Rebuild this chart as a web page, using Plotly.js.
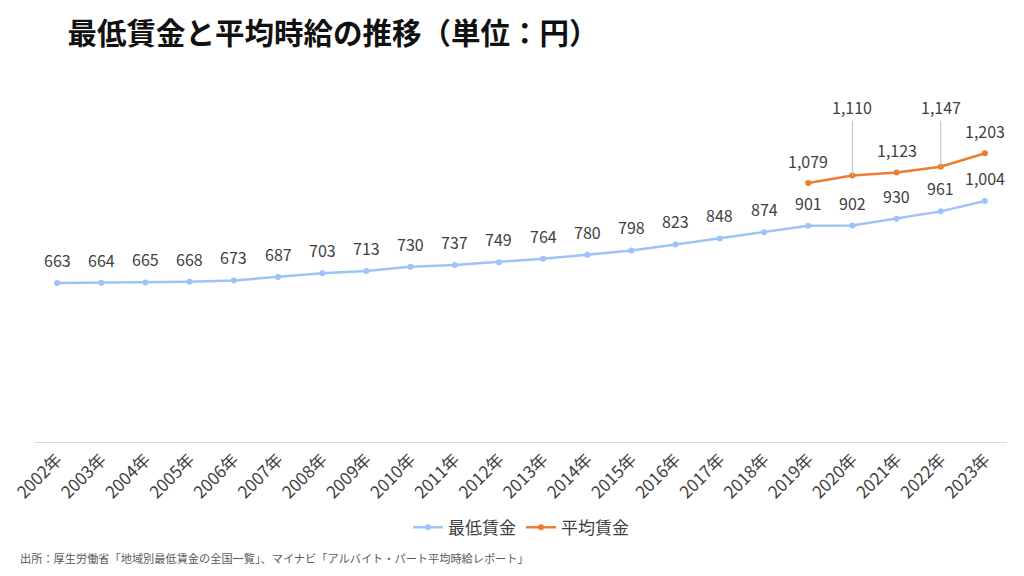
<!DOCTYPE html>
<html><head><meta charset="utf-8">
<script src="https://cdn.plot.ly/plotly-3.0.1.min.js"></script>
<style>html,body{margin:0;padding:0;background:#fff;}#chart{width:1024px;height:576px;}</style>
</head><body><div id="chart"></div>
<script>
const years = ["2002年","2003年","2004年","2005年","2006年","2007年","2008年","2009年","2010年","2011年","2012年","2013年","2014年","2015年","2016年","2017年","2018年","2019年","2020年","2021年","2022年","2023年"];
const minWage = [663,664,665,668,673,687,703,713,730,737,749,764,780,798,823,848,874,901,902,930,961,1004];
const avgYears = ["2019年","2020年","2021年","2022年","2023年"];
const avgWage = [1079,1110,1123,1147,1203];
const calloutYears = ["2020年","2022年"];

const F = '"Noto Sans CJK JP", "Noto Sans", sans-serif';
const fmt = v => v.toLocaleString('en-US');

const traces = [
  {x: years, y: minWage, name: '最低賃金', type: 'scatter', mode: 'lines+markers',
   line: {color: '#9DC3F7', width: 2.5}, marker: {color: '#9DC3F7', size: 6}},
  {x: avgYears, y: avgWage, name: '平均賃金', type: 'scatter', mode: 'lines+markers',
   line: {color: '#ED7D31', width: 2.5}, marker: {color: '#ED7D31', size: 6}}
];

const ann = [];
minWage.forEach((v, i) => ann.push({x: years[i], y: v, text: fmt(v), showarrow: false, yshift: 23,
  font: {family: F, size: 16, color: '#404040'}}));
avgWage.forEach((v, i) => {
  const call = calloutYears.includes(avgYears[i]);
  if (call) {
    ann.push({x: avgYears[i], y: v, text: fmt(v), showarrow: true, axref: 'pixel', ax: 0, ayref: 'y', ay: 1338,
      arrowhead: 0, arrowwidth: 1, arrowcolor: '#BFBFBF', standoff: 0, startstandoff: 0, yanchor: 'bottom',
      font: {family: F, size: 16, color: '#404040'}});
  } else {
    ann.push({x: avgYears[i], y: v, text: fmt(v), showarrow: false, yshift: 22,
      font: {family: F, size: 16, color: '#404040'}});
  }
});
ann.push({xref: 'paper', yref: 'paper', x: -0.017, y: -0.345, xanchor: 'left', yanchor: 'middle',
  showarrow: false, text: '出所：厚生労働省「地域別最低賃金の全国一覧」、マイナビ「アルバイト・パート平均時給レポート」',
  font: {family: F, size: 11.2, color: '#595959'}});

const layout = {
  width: 1024, height: 576,
  margin: {l: 35, r: 17, t: 106, b: 134},
  paper_bgcolor: '#fff', plot_bgcolor: '#fff',
  title: {text: '<b>最低賃金と平均時給の推移（単位：円）</b>', x: 0.066, xanchor: 'left', y: 0.942, yanchor: 'middle',
    font: {family: F, size: 29.5, color: '#111'}},
  xaxis: {type: 'category', range: [-0.5, 21.5], showgrid: false, zeroline: false,
    showline: true, linecolor: '#D9D9D9', linewidth: 1, ticks: '', tickangle: -45,
    tickfont: {family: F, size: 17, color: '#404040'}, fixedrange: true},
  yaxis: {range: [0, 1400], visible: false, fixedrange: true},
  showlegend: true,
  legend: {orientation: 'h', x: 0.5, xanchor: 'center', y: -0.255, yanchor: 'middle',
    font: {family: F, size: 17, color: '#404040'}},
  annotations: ann
};
Plotly.newPlot('chart', traces, layout, {displayModeBar: false, staticPlot: true});
</script></body></html>
